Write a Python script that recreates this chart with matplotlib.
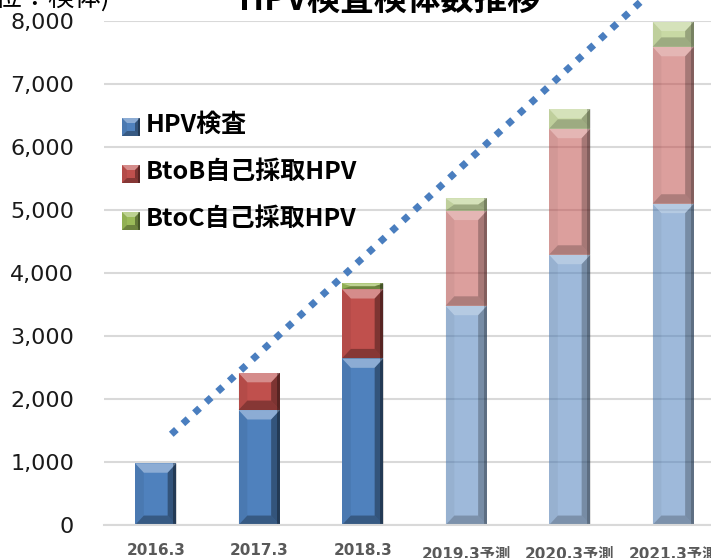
import matplotlib
matplotlib.use('Agg')
import matplotlib.pyplot as plt
import matplotlib.transforms as mtrans
from matplotlib.patches import Polygon, Rectangle
from matplotlib.ticker import FuncFormatter

plt.rcParams['font.family'] = ['DejaVu Sans', 'Noto Sans CJK JP']

# data
years = ['2016.3', '2017.3', '2018.3', '2019.3予測', '2020.3予測', '2021.3予測']
forecast = [False, False, False, True, True, True]
hpv = [980, 1825, 2645, 3480, 4290, 5100]
btob = [0, 590, 1100, 1510, 2000, 2490]
btoc = [0, 0, 90, 195, 315, 400]
series_names = ['HPV検査', 'BtoB自己採取HPV', 'BtoC自己採取HPV']
series_colors = ['#4f81bd', '#c0504d', '#9bbb59']

# dotted growth arrow
trend_x = [0.15, 4.9]
trend_y = [1440, 8630]

W, H = 711, 558
fig = plt.figure(figsize=(W / 100, H / 100), dpi=100)
ax = fig.add_axes([104 / W, 1 - 525 / H, (725 - 104) / W, (525 - 21) / H])


def bevel(add, x0, y0, w, h, color, alpha, bx, by, tr, z=2):
    """flat box with a simple Excel-like bevel drawn as shaded trapezoids"""
    by = min(by, h / 2)
    x1, y1 = x0 + w, y0 + h
    add(Rectangle((x0, y0), w, h, facecolor=color, alpha=alpha, lw=0,
                  transform=tr, zorder=z))
    k = 1.0 if alpha >= 1 else 0.7
    shades = [
        ('white', 0.35, [(x0, y1), (x1, y1), (x1 - bx, y1 - by), (x0 + bx, y1 - by)]),
        ('black', 0.30, [(x0, y0), (x1, y0), (x1 - bx, y0 + by), (x0 + bx, y0 + by)]),
        ('black', 0.35, [(x1, y0), (x1, y1), (x1 - bx, y1 - by), (x1 - bx, y0 + by)]),
        ('black', 0.06, [(x0, y0), (x0, y1), (x0 + bx, y1 - by), (x0 + bx, y0 + by)]),
        ('black', 0.30, [(x1 - bx * 0.35, y0), (x1, y0), (x1, y1), (x1 - bx * 0.35, y1)]),
    ]
    for c, a, pts in shades:
        add(Polygon(pts, closed=True, facecolor=c, alpha=a * k, lw=0,
                    transform=tr, zorder=z + 0.1))


bar_w = 0.4
bx = 0.085
by = 150
for i, yr in enumerate(years):
    alpha = 0.55 if forecast[i] else 1.0
    bottom = 0
    for vals, col in zip([hpv, btob, btoc], series_colors):
        v = vals[i]
        if v > 0:
            bevel(ax.add_patch, i - bar_w / 2, bottom, bar_w, v, col, alpha,
                  bx, by, ax.transData)
        bottom += v

ax.plot(trend_x, trend_y, color='#4a7ebf', lw=5.0, linestyle=(0, (1, 1.27)),
        dash_capstyle='butt', clip_on=False, zorder=5)

ax.set_xlim(-0.5, 5.5)
ax.set_ylim(0, 8000)
ax.set_yticks(range(0, 8001, 1000))
ax.yaxis.set_major_formatter(FuncFormatter(lambda v, p: f'{int(v):,}'))
ax.set_xticks(range(len(years)))
ax.set_xticklabels(years, fontsize=11, fontweight='bold', color='#595959')
ax.tick_params(axis='y', length=0, pad=21.6, labelsize=16, labelcolor='#1a1a1a')
ax.tick_params(axis='x', length=0, pad=13)
# forecast labels sit a little lower in the original
shift = mtrans.ScaledTranslation(0, -2.5 / 72, fig.dpi_scale_trans)
for lab, f in zip(ax.get_xticklabels(), forecast):
    if f:
        lab.set_transform(lab.get_transform() + shift)
ax.yaxis.grid(True, color='#d9d9d9', lw=1.5)
ax.set_axisbelow(True)
for s in ['top', 'right', 'left']:
    ax.spines[s].set_visible(False)
ax.spines['bottom'].set_color('#d9d9d9')
ax.spines['bottom'].set_linewidth(1.5)

# legend, drawn by hand to get the bevelled swatches
for j, (name, col) in enumerate(zip(series_names, series_colors)):
    cy = 127 + 47 * j
    bevel(fig.add_artist, 122 / W, 1 - (cy + 9) / H, 18 / W, 18 / H, col, 1.0,
          5 / W, 5 / H, fig.transFigure)
    fig.text(146 / W, 1 - (cy - 2) / H, name, ha='left', va='center',
             fontsize=18, fontweight='bold', family=['Noto Sans CJK JP'])

fig.text(390 / W, 1 - 10 / H, 'HPV検査検体数推移', ha='center', va='baseline',
         fontsize=24, fontweight='bold', family=['Noto Sans CJK JP'])
fig.text(110 / W, 1 - 6 / H, '(単位：検体)', ha='right', va='baseline',
         fontsize=19, family=['Noto Sans CJK JP'])

fig.savefig('out.png', dpi=100)
